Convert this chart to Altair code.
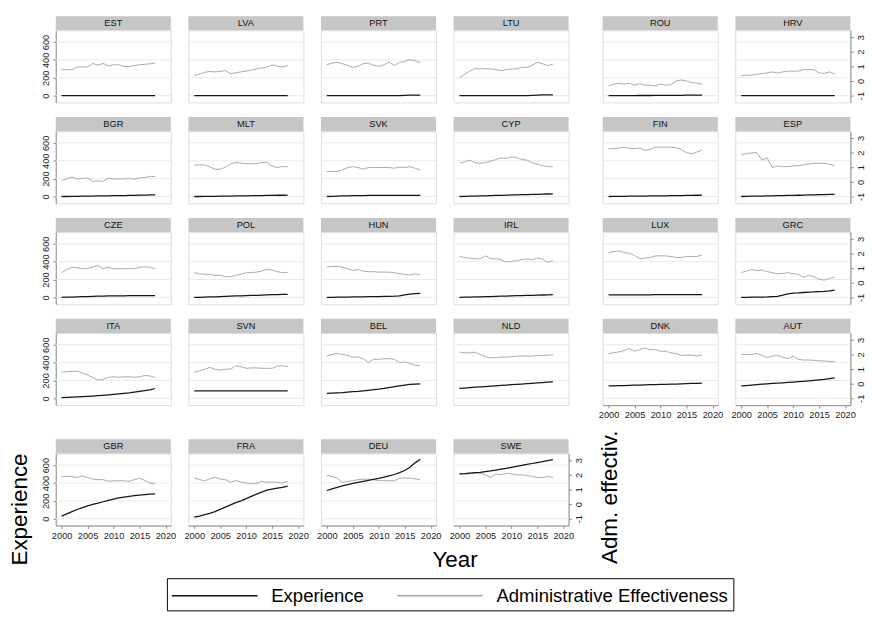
import altair as alt
import pandas as pd

YEARS = [2000, 2001, 2002, 2003, 2004, 2005, 2006, 2007, 2008, 2009,
         2010, 2011, 2012, 2013, 2014, 2015, 2016, 2017, 2018]

# ---- Experience (left axis) and Administrative effectiveness (right axis) ----
exp_EST = [0, 0, 0, 0, 0, 0, 0, 0, 0, 0, 0, 0, 0, 0, 0, 0, 0, 0, 0]
adm_EST = [0.77, 0.77, 0.78, 0.96, 0.96, 0.98, 1.2, 1.08, 1.2, 1.02, 1.11, 1.11, 0.99, 0.99, 1.05, 1.11, 1.14, 1.17, 1.23]
exp_LVA = [0, 0, 0, 0, 0, 0, 0, 0, 0, 0, 0, 0, 0, 0, 0, 0, 0, 0, 0]
adm_LVA = [0.36, 0.47, 0.59, 0.65, 0.62, 0.65, 0.71, 0.5, 0.56, 0.62, 0.68, 0.74, 0.82, 0.88, 0.96, 1.1, 1.02, 0.96, 1.06]
exp_PRT = [0, 0, 0, 0, 0, 0, 0, 0, 0, 0, 0, 0, 0, 0, 0, 2, 4, 6, 6]
adm_PRT = [1.11, 1.22, 1.27, 1.18, 1.07, 0.93, 1.0, 1.18, 1.22, 1.07, 1.0, 1.11, 1.29, 1.05, 1.27, 1.33, 1.45, 1.38, 1.27]
exp_LTU = [0, 0, 0, 0, 0, 0, 0, 0, 0, 0, 0, 0, 0, 0, 3, 6, 7, 8, 8]
adm_LTU = [0.22, 0.45, 0.67, 0.85, 0.82, 0.85, 0.82, 0.78, 0.71, 0.78, 0.82, 0.82, 0.93, 0.93, 1.07, 1.27, 1.18, 1.05, 1.15]
exp_ROU = [0, 0, 0, 0, 0, 0, 1, 1, 1, 2, 2, 2, 3, 3, 3, 4, 4, 5, 5]
adm_ROU = [-0.33, -0.22, -0.15, -0.22, -0.15, -0.29, -0.18, -0.29, -0.29, -0.33, -0.22, -0.29, -0.25, 0.0, 0.07, 0.0, -0.11, -0.15, -0.22]
exp_HRV = [0, 0, 0, 0, 0, 0, 0, 0, 0, 0, 0, 0, 0, 0, 0, 0, 0, 0, 0]
adm_HRV = [0.38, 0.4, 0.4, 0.45, 0.51, 0.55, 0.62, 0.55, 0.62, 0.67, 0.67, 0.67, 0.78, 0.78, 0.78, 0.55, 0.51, 0.62, 0.49]

exp_BGR = [0, 0, 1, 2, 3, 4, 5, 6, 7, 8, 9, 10, 11, 12, 13, 15, 16, 17, 18]
adm_BGR = [0.09, 0.22, 0.33, 0.2, 0.24, 0.27, 0.04, 0.07, 0.04, 0.24, 0.2, 0.2, 0.2, 0.24, 0.18, 0.27, 0.3, 0.38, 0.36]
exp_MLT = [0, 0, 1, 1, 2, 3, 4, 5, 6, 7, 8, 9, 10, 11, 12, 13, 14, 14, 15]
adm_MLT = [1.16, 1.16, 1.16, 1.02, 0.87, 0.86, 1.0, 1.22, 1.33, 1.28, 1.24, 1.24, 1.25, 1.33, 1.33, 1.08, 0.98, 1.05, 1.04]
exp_SVK = [0, 2, 4, 6, 8, 10, 11, 11, 12, 12, 12, 12, 12, 12, 12, 12, 12, 12, 12]
adm_SVK = [0.71, 0.71, 0.71, 0.82, 0.98, 1.04, 0.98, 0.87, 0.98, 0.98, 0.98, 0.98, 0.98, 0.93, 1.0, 0.98, 1.04, 0.93, 0.82]
exp_CYP = [0, 2, 3, 5, 7, 8, 10, 12, 13, 15, 17, 18, 20, 22, 23, 25, 27, 28, 30]
adm_CYP = [1.27, 1.38, 1.49, 1.31, 1.27, 1.31, 1.42, 1.53, 1.64, 1.6, 1.71, 1.67, 1.53, 1.49, 1.31, 1.2, 1.11, 1.04, 1.04]
exp_FIN = [0, 1, 2, 2, 3, 4, 5, 5, 6, 7, 8, 8, 9, 10, 11, 12, 13, 14, 15]
adm_FIN = [2.27, 2.27, 2.31, 2.38, 2.31, 2.27, 2.31, 2.16, 2.22, 2.38, 2.38, 2.38, 2.38, 2.33, 2.22, 2.0, 1.93, 2.04, 2.16]
exp_ESP = [0, 1, 3, 4, 5, 7, 8, 9, 10, 12, 13, 14, 15, 17, 18, 20, 21, 23, 25]
adm_ESP = [1.87, 1.93, 1.98, 2.0, 1.49, 1.64, 0.98, 1.09, 1.04, 1.04, 1.09, 1.11, 1.16, 1.22, 1.27, 1.27, 1.27, 1.2, 1.11]

exp_CZE = [0, 2, 4, 6, 8, 10, 12, 14, 15, 16, 17, 18, 18, 19, 19, 20, 20, 20, 20]
adm_CZE = [0.69, 0.91, 1.07, 1.02, 0.96, 0.98, 1.07, 1.18, 0.96, 1.07, 0.96, 0.96, 0.96, 0.98, 0.96, 1.07, 1.09, 1.07, 0.96]
exp_POL = [0, 1, 3, 5, 7, 9, 12, 14, 16, 18, 20, 22, 24, 26, 28, 30, 32, 34, 35]
adm_POL = [0.69, 0.62, 0.58, 0.58, 0.51, 0.51, 0.42, 0.42, 0.51, 0.58, 0.69, 0.69, 0.73, 0.8, 0.91, 0.87, 0.76, 0.69, 0.69]
exp_HUN = [0, 1, 2, 3, 4, 5, 6, 7, 8, 9, 10, 11, 12, 14, 18, 28, 38, 42, 45]
adm_HUN = [1.07, 1.11, 1.13, 1.07, 0.96, 0.84, 0.91, 0.8, 0.76, 0.76, 0.73, 0.73, 0.73, 0.69, 0.62, 0.58, 0.53, 0.62, 0.53]
exp_IRL = [0, 2, 4, 5, 7, 9, 10, 12, 14, 15, 17, 19, 20, 22, 24, 25, 27, 28, 30]
adm_IRL = [1.8, 1.73, 1.69, 1.64, 1.64, 1.84, 1.64, 1.64, 1.58, 1.42, 1.47, 1.51, 1.58, 1.64, 1.58, 1.69, 1.62, 1.4, 1.51]
exp_LUX = [28, 28, 28, 28, 29, 29, 29, 29, 29, 30, 30, 30, 30, 30, 30, 31, 31, 31, 31]
adm_LUX = [2.07, 2.13, 2.18, 2.07, 2.02, 1.87, 1.64, 1.69, 1.73, 1.84, 1.84, 1.84, 1.8, 1.73, 1.73, 1.8, 1.8, 1.8, 1.91]
exp_GRC = [0, 1, 2, 3, 4, 5, 8, 12, 25, 40, 47, 50, 55, 60, 62, 66, 68, 74, 82]
adm_GRC = [0.69, 0.8, 0.91, 0.84, 0.87, 0.76, 0.69, 0.62, 0.64, 0.69, 0.62, 0.58, 0.36, 0.51, 0.42, 0.24, 0.18, 0.31, 0.36]

exp_ITA = [8, 10, 13, 16, 19, 22, 25, 29, 33, 38, 44, 50, 56, 62, 70, 78, 86, 95, 110]
adm_ITA = [0.8, 0.82, 0.84, 0.86, 0.72, 0.6, 0.42, 0.24, 0.3, 0.44, 0.47, 0.44, 0.47, 0.47, 0.44, 0.47, 0.56, 0.53, 0.42]
exp_SVN = [84, 84, 84, 84, 84, 84, 84, 84, 84, 84, 84, 84, 84, 84, 84, 84, 84, 84, 84]
adm_SVN = [0.77, 0.89, 0.98, 1.11, 0.99, 0.93, 0.99, 0.99, 1.23, 1.17, 1.05, 1.08, 1.08, 1.05, 1.05, 1.05, 1.2, 1.23, 1.17]
exp_BEL = [55, 58, 62, 65, 70, 74, 78, 84, 90, 96, 102, 110, 120, 130, 140, 148, 155, 160, 162]
adm_BEL = [1.89, 2.0, 2.07, 2.0, 1.93, 1.82, 1.82, 1.71, 1.44, 1.67, 1.67, 1.71, 1.71, 1.67, 1.44, 1.49, 1.38, 1.27, 1.22]
exp_NLD = [110, 115, 120, 124, 128, 132, 136, 140, 144, 148, 152, 156, 160, 164, 168, 172, 176, 180, 183]
adm_NLD = [2.16, 2.11, 2.11, 2.16, 2.0, 1.84, 1.78, 1.78, 1.82, 1.82, 1.84, 1.89, 1.89, 1.89, 1.89, 1.93, 1.93, 1.96, 1.96]
exp_DNK = [138, 140, 142, 143, 145, 147, 148, 150, 152, 153, 155, 157, 158, 160, 162, 164, 166, 168, 171]
adm_DNK = [2.07, 2.11, 2.18, 2.27, 2.4, 2.22, 2.33, 2.44, 2.33, 2.33, 2.22, 2.22, 2.11, 2.07, 1.93, 1.96, 1.96, 1.89, 1.96]
exp_AUT = [138, 143, 148, 153, 158, 162, 166, 170, 174, 178, 182, 186, 190, 195, 200, 206, 212, 220, 228]
adm_AUT = [2.0, 2.0, 2.0, 2.07, 1.93, 1.78, 1.89, 1.93, 1.82, 1.71, 1.89, 1.67, 1.62, 1.62, 1.6, 1.56, 1.56, 1.51, 1.51]

exp_GBR = [30, 55, 80, 103, 125, 143, 160, 175, 190, 205, 220, 232, 242, 250, 258, 264, 270, 274, 278]
adm_GBR = [1.89, 1.89, 1.89, 1.82, 1.93, 1.82, 1.71, 1.67, 1.67, 1.56, 1.6, 1.6, 1.6, 1.56, 1.67, 1.78, 1.62, 1.44, 1.38]
exp_FRA = [18, 30, 45, 60, 80, 105, 130, 155, 180, 200, 225, 250, 275, 298, 320, 332, 342, 352, 365]
adm_FRA = [1.78, 1.67, 1.6, 1.73, 1.82, 1.71, 1.67, 1.49, 1.62, 1.51, 1.44, 1.4, 1.4, 1.56, 1.49, 1.51, 1.49, 1.44, 1.56]
exp_DEU = [316, 335, 352, 367, 382, 395, 407, 418, 429, 440, 452, 465, 480, 495, 515, 540, 575, 625, 665]
adm_DEU = [1.96, 1.89, 1.78, 1.49, 1.56, 1.6, 1.67, 1.71, 1.71, 1.67, 1.6, 1.6, 1.6, 1.6, 1.78, 1.78, 1.78, 1.73, 1.67]
exp_SWE = [502, 505, 510, 515, 520, 527, 535, 545, 555, 564, 574, 585, 596, 607, 618, 629, 640, 650, 660]
adm_SWE = [2.07, 2.07, 2.07, 2.11, 2.11, 2.0, 1.82, 2.07, 2.0, 2.11, 2.07, 2.0, 2.0, 1.96, 1.89, 1.82, 1.82, 1.89, 1.82]

SERIES = ["Experience", "Administrative Effectiveness"]
X_TICKS = [2000, 2005, 2010, 2015, 2020]
LEFT_TICKS = [0, 200, 400, 600]
RIGHT_TICKS = [-1, 0, 1, 2, 3]

LEFT_ROWS = [["EST", "LVA", "PRT", "LTU"],
             ["BGR", "MLT", "SVK", "CYP"],
             ["CZE", "POL", "HUN", "IRL"],
             ["ITA", "SVN", "BEL", "NLD"]]
RIGHT_ROWS = [["ROU", "HRV"], ["FIN", "ESP"], ["LUX", "GRC"], ["DNK", "AUT"]]
BOTTOM_ROW = ["GBR", "FRA", "DEU", "SWE"]

DATA = {
    "EST": (exp_EST, adm_EST), "LVA": (exp_LVA, adm_LVA), "PRT": (exp_PRT, adm_PRT),
    "LTU": (exp_LTU, adm_LTU), "ROU": (exp_ROU, adm_ROU), "HRV": (exp_HRV, adm_HRV),
    "BGR": (exp_BGR, adm_BGR), "MLT": (exp_MLT, adm_MLT), "SVK": (exp_SVK, adm_SVK),
    "CYP": (exp_CYP, adm_CYP), "FIN": (exp_FIN, adm_FIN), "ESP": (exp_ESP, adm_ESP),
    "CZE": (exp_CZE, adm_CZE), "POL": (exp_POL, adm_POL), "HUN": (exp_HUN, adm_HUN),
    "IRL": (exp_IRL, adm_IRL), "LUX": (exp_LUX, adm_LUX), "GRC": (exp_GRC, adm_GRC),
    "ITA": (exp_ITA, adm_ITA), "SVN": (exp_SVN, adm_SVN), "BEL": (exp_BEL, adm_BEL),
    "NLD": (exp_NLD, adm_NLD), "DNK": (exp_DNK, adm_DNK), "AUT": (exp_AUT, adm_AUT),
    "GBR": (exp_GBR, adm_GBR), "FRA": (exp_FRA, adm_FRA), "DEU": (exp_DEU, adm_DEU),
    "SWE": (exp_SWE, adm_SWE),
}

# ---- styling / layout ----
PW, PH = 118, 74          # plot area of one panel
STRIP = 14.5              # height of the grey header strip
COL_GAP = 18
FONT = "Liberation Sans"
GRID = "#e2ecec"
AXC = "#8c8c8c"
LAB = "#222222"
STRIPC = "#c6c6c6"
BLACK = "#161616"
GRAY = "#a9a9a9"

X_DOM = [1998.87, 2021.03]
YL_DOM = [-76.4, 730.9]
YR_DOM = [-1.467, 3.467]

color_scale = alt.Scale(domain=SERIES, range=[BLACK, GRAY])
legend = alt.Legend(
    title=None, orient="none", legendX=114, legendY=562, direction="horizontal",
    symbolType="M-3.667,0H3.667", symbolSize=576, symbolStrokeWidth=1.6,
    symbolOffset=31, labelOffset=45, columnPadding=29, padding=5,
    strokeColor="black", labelFont=FONT, labelFontSize=19, labelColor="black",
    labelLimit=400,
)
grid_df = pd.DataFrame({"tick": LEFT_TICKS})
TITLE_STYLE = dict(titleAngle=270, titleAlign="left", titleBaseline="middle",
                   titleFontSize=23, titleFont=FONT, titleFontWeight="normal",
                   titleColor="black")


def panel(code, left=False, right=False, xax=False):
    e, a = DATA[code]
    df = pd.DataFrame({"year": YEARS, "exp": e, "adm": a})
    base = alt.Chart(df)

    if xax:
        xargs = dict(values=X_TICKS, format="d", grid=False, domainColor=AXC, tickColor=AXC,
                     tickSize=3, labelPadding=2, labelFontSize=9.5, labelColor=LAB,
                     labelFont=FONT, labelFlush=False, title=None)
        if code == "SWE":
            xargs.update(title="Year", titleX=1, titleY=41.5, titleAlign="center",
                         titleBaseline="alphabetic", titleFontSize=23, titleFont=FONT,
                         titleFontWeight="normal", titleColor="black")
        xaxis = alt.Axis(**xargs)
    else:
        xaxis = None
    X = alt.X("year:Q", scale=alt.Scale(domain=X_DOM, nice=False, zero=False), axis=xaxis)

    if left:
        largs = dict(orient="left", values=LEFT_TICKS, grid=False,
                     domainColor=AXC, tickColor=AXC, tickSize=3, labelAngle=270,
                     labelAlign="center", labelBaseline="bottom", labelPadding=2,
                     labelFontSize=9.5, labelColor=LAB, labelFont=FONT, title=None)
        if code == "GBR":
            largs.update(title="Experience", titleX=-36.5, titleY=114.5, **TITLE_STYLE)
        if code == "ITA":
            # invisible twin of the big title so both blocks share the same left edge
            largs.update(title="Experience", titleX=-36.5, titleY=60, titleOpacity=0,
                         **TITLE_STYLE)
        laxis = alt.Axis(**largs)
    else:
        laxis = None

    if right:
        rargs = dict(orient="right", values=RIGHT_TICKS, grid=False, domainColor=AXC,
                     tickColor=AXC, tickSize=3, labelAngle=270, labelAlign="center",
                     labelBaseline="top", labelPadding=2, labelFontSize=9.5,
                     labelColor=LAB, labelFont=FONT, labelExpr="'' + datum.value",
                     title=None)
        if code == "SWE":
            rargs.update(title="Adm. effectiv.", titleX=42, titleY=113, **TITLE_STYLE)
        raxis = alt.Axis(**rargs)
    else:
        raxis = None

    yl_scale = alt.Scale(domain=YL_DOM, nice=False, zero=False)
    yr_scale = alt.Scale(domain=YR_DOM, nice=False, zero=False)

    label_df = pd.DataFrame({"country": [code]})
    strip = alt.Chart(label_df).mark_rect(color=STRIPC).encode(
        x=alt.value(0), x2=alt.value(PW), y=alt.value(-STRIP), y2=alt.value(0))
    strip_text = alt.Chart(label_df).mark_text(
        font=FONT, fontSize=9.5, color="#111111", baseline="middle", align="center").encode(
        text="country:N", x=alt.value(PW / 2), y=alt.value(-STRIP / 2))
    grid = alt.Chart(grid_df).mark_rule(color=GRID, strokeWidth=1).encode(
        y=alt.Y("tick:Q", scale=yl_scale, axis=None),
        x=alt.value(0), x2=alt.value(PW))

    adm_line = base.transform_calculate(series="'Administrative Effectiveness'").mark_line(
        strokeWidth=1.0).encode(
        x=X,
        y=alt.Y("adm:Q", scale=yr_scale, axis=raxis),
        color=alt.Color("series:N", scale=color_scale, legend=legend))
    exp_line = base.transform_calculate(series="'Experience'").mark_line(
        strokeWidth=1.3).encode(
        x=X,
        y=alt.Y("exp:Q", scale=yl_scale, axis=laxis),
        color=alt.Color("series:N", scale=color_scale, legend=legend))

    return alt.layer(grid, strip, strip_text, adm_line, exp_line).resolve_scale(
        y="independent").properties(width=PW, height=PH)


left_cells = [panel(code, left=(c == 0)) for row in LEFT_ROWS for c, code in enumerate(row)]
right_cells = [panel(code, right=(c == 1), xax=(r == 3))
               for r, row in enumerate(RIGHT_ROWS) for c, code in enumerate(row)]

left_grid = alt.concat(*left_cells, columns=4, spacing={"row": 29.5, "column": COL_GAP},
                       bounds="flush")
right_grid = alt.concat(*right_cells, columns=2, spacing={"row": 29.5, "column": COL_GAP},
                        bounds="flush")
top_block = alt.hconcat(left_grid, right_grid, spacing=28)

bottom_row = alt.hconcat(
    panel("GBR", left=True, xax=True),
    panel("FRA", xax=True),
    panel("DEU", xax=True),
    panel("SWE", right=True, xax=True),
    spacing=COL_GAP, bounds="flush")

chart = alt.vconcat(top_block, bottom_row, spacing=9).properties(
    padding=0).configure_view(stroke=None).configure(font=FONT)

chart.save("out.html", embed_options={"renderer": "svg", "actions": False})
